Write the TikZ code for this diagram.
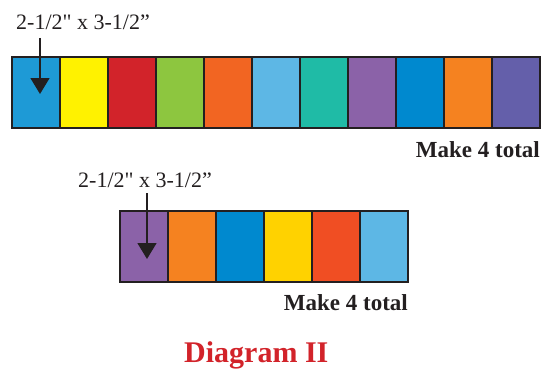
\documentclass[tikz,border=0pt]{standalone}
\usepackage{fontspec}
\setmainfont{Liberation Serif}
\newfontfamily\rawserif{Liberation Serif}[Ligatures=TeXOff]
\usetikzlibrary{arrows.meta}
\definecolor{edge}{HTML}{231F20}
\definecolor{cA}{HTML}{1E9AD6}
\definecolor{cB}{HTML}{FFF200}
\definecolor{cC}{HTML}{D2232A}
\definecolor{cD}{HTML}{8DC63F}
\definecolor{cE}{HTML}{F26522}
\definecolor{cF}{HTML}{5DB7E5}
\definecolor{cG}{HTML}{1FBBA6}
\definecolor{cH}{HTML}{8B62A8}
\definecolor{cI}{HTML}{0089CF}
\definecolor{cJ}{HTML}{F58220}
\definecolor{cK}{HTML}{645FAA}
\definecolor{cL}{HTML}{FFD200}
\definecolor{cM}{HTML}{F04E23}
\definecolor{titlered}{HTML}{D2232A}
\tikzset{
  cell/.style={draw=edge, line width=1.6pt, minimum width=48pt, minimum height=71pt, inner sep=0pt, outer sep=0pt, anchor=north west},
  sizelabel/.style={font=\rawserif\fontsize{22}{24}\selectfont, inner sep=0pt, anchor=base west, text=edge},
  makelabel/.style={font=\fontsize{23}{25}\selectfont\bfseries, inner sep=0pt, anchor=base east, text=edge},
  pointer/.style={draw=edge, line width=1.6pt, -{Triangle[width=19pt,length=16pt]}},
}
\begin{document}
\begin{tikzpicture}[x=1pt,y=-1pt]
\useasboundingbox (0,0) rectangle (546,369);
% top strip
\foreach \c [count=\i from 0] in {cA,cB,cC,cD,cE,cF,cG,cH,cI,cJ,cK} {
  \node[cell, fill=\c] (t\i) at (12+48*\i,57) {};
}
% bottom strip
\foreach \c [count=\i from 0] in {cH,cJ,cI,cL,cM,cF} {
  \node[cell, fill=\c] (b\i) at (120+48*\i,211) {};
}
\node[sizelabel] (tl) at (16,30) {2-1/2" x 3-1/2”};
\node[sizelabel] (bl) at (78,187) {2-1/2" x 3-1/2”};
\coordinate (ts) at (40,38);
\coordinate (te) at (40,94);
\coordinate (bs) at (147,193);
\coordinate (be) at (147,259);
\draw[pointer] (ts) -- (te);
\draw[pointer] (bs) -- (be);
\node[makelabel] (tm) at (540,157) {Make 4 total};
\node[makelabel] (bm) at (408,310) {Make 4 total};
\node[font=\fontsize{30}{32}\selectfont\bfseries, text=titlered, inner sep=0pt, anchor=base west] (title) at (184,362) {Diagram II};
\end{tikzpicture}
\end{document}
